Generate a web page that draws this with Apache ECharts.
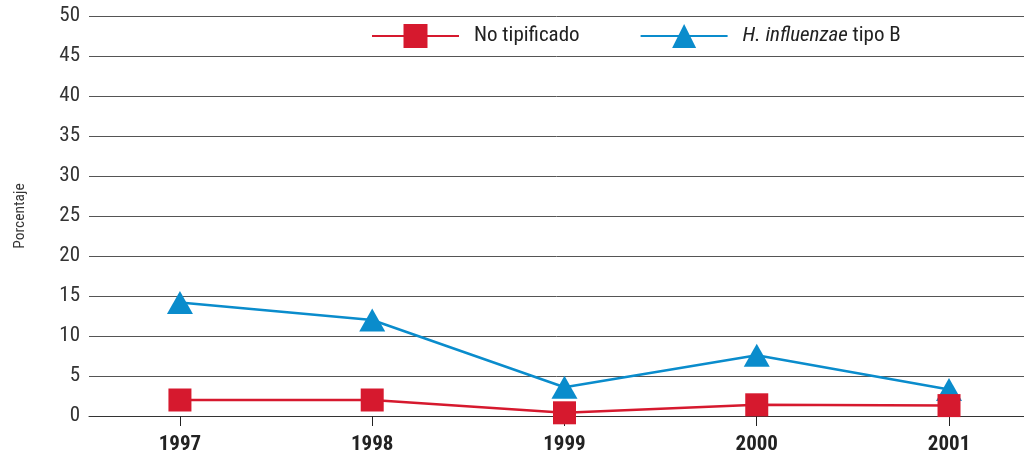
<!DOCTYPE html>
<html>
<head>
<meta charset="utf-8">
<style>
  html, body { margin: 0; padding: 0; background: #fff; }
  #chart { width: 1024px; height: 460px; }
</style>
<script src="https://cdn.jsdelivr.net/npm/echarts@6/dist/echarts.min.js"></script>
</head>
<body>
<div id="chart"></div>
<script>
var years = ['1997', '1998', '1999', '2000', '2001'];
var noTipificado = [2.0, 2.0, 0.4, 1.4, 1.3];
var hibTipoB = [14.2, 12.0, 3.6, 7.6, 3.3];
var yTicks = [0, 5, 10, 15, 20, 25, 30, 35, 40, 45, 50];

var fontFamily = "'Liberation Sans Narrow', 'Roboto Condensed', 'Liberation Sans', sans-serif";
var yearNums = years.map(function (y) { return Number(y); });

function pairs(vals) {
  return vals.map(function (v, i) { return [yearNums[i], v]; });
}

var chart = echarts.init(document.getElementById('chart'));
chart.setOption({
  animation: false,
  textStyle: { fontFamily: fontFamily },
  grid: { left: 89, right: 0, top: 16, bottom: 44, outerBoundsMode: 'none', containLabel: false },
  legend: {
    left: 371,
    top: 24,
    padding: 0,
    itemWidth: 87,
    itemHeight: 30,
    itemGap: 60,
    data: ['No tipificado', 'H. influenzae tipo B'],
    textStyle: {
      fontFamily: fontFamily,
      fontSize: 21,
      color: '#222',
      padding: [0, 0, 0, 10],
      rich: {
        i: { fontFamily: fontFamily, fontSize: 21, fontStyle: 'italic', color: '#222' }
      }
    },
    formatter: function (name) {
      if (name === 'H. influenzae tipo B') {
        return '{i|H. influenzae} tipo B';
      }
      return name;
    }
  },
  xAxis: {
    type: 'value',
    min: 1996.527,
    max: 2001.39,
    axisLine: { show: true, lineStyle: { color: '#333', width: 1 } },
    axisTick: {
      show: true,
      length: 10,
      customValues: yearNums,
      lineStyle: { color: '#222', width: 1 }
    },
    axisLabel: {
      customValues: yearNums,
      margin: 18,
      fontSize: 21,
      fontWeight: 'bold',
      color: '#222',
      fontFamily: fontFamily,
      formatter: function (v) { return String(v); }
    },
    splitLine: { show: false }
  },
  yAxis: {
    type: 'value',
    min: yTicks[0],
    max: yTicks[yTicks.length - 1],
    interval: 5,
    name: 'Porcentaje',
    nameLocation: 'middle',
    nameRotate: 90,
    nameGap: 61,
    nameTextStyle: { fontSize: 15.5, color: '#333', fontFamily: fontFamily },
    axisLine: { show: false },
    axisTick: { show: false },
    axisLabel: { margin: 9, fontSize: 21, color: '#333', fontFamily: fontFamily },
    splitLine: { show: true, lineStyle: { color: '#555', width: 1 } }
  },
  series: [
    {
      name: 'No tipificado',
      type: 'line',
      data: pairs(noTipificado),
      z: 3,
      color: '#d6192e',
      symbol: 'rect',
      symbolSize: 23,
      lineStyle: { width: 2.5, color: '#d6192e' },
      itemStyle: { color: '#d6192e' }
    },
    {
      name: 'H. influenzae tipo B',
      type: 'line',
      data: pairs(hibTipoB),
      z: 2,
      color: '#0a8ccc',
      symbol: 'triangle',
      symbolSize: [26, 23],
      lineStyle: { width: 2.5, color: '#0a8ccc' },
      itemStyle: { color: '#0a8ccc' }
    }
  ]
});
</script>
</body>
</html>
